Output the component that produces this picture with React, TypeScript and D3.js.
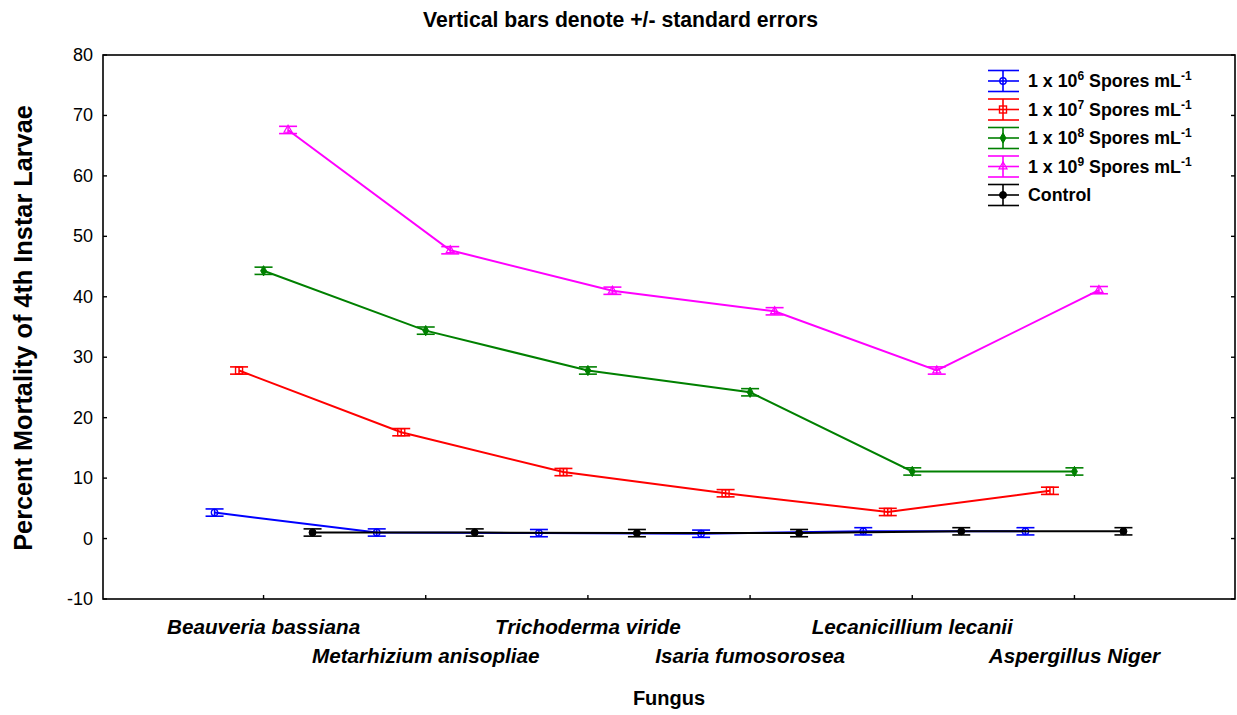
import React, { useEffect, useRef } from 'react';
import * as d3 from 'd3';

// fungus categories, in x order
const fungi = [
  'Beauveria bassiana',
  'Metarhizium anisopliae',
  'Trichoderma viride',
  'Isaria fumosorosea',
  'Lecanicillium lecanii',
  'Aspergillus Niger',
];

const seriesKeys = ['1e6', '1e7', '1e8', '1e9', 'control'];
const seriesExp = ['6', '7', '8', '9', ''];
const seriesColors = ['#0000ff', '#ff0000', '#008000', '#ff00ff', '#000000'];

// percent mortality (means) per series
const spores1e6 = [4.3, 1.0, 0.9, 0.8, 1.2, 1.2];
const spores1e7 = [27.8, 17.6, 11.0, 7.5, 4.4, 7.9];
const spores1e8 = [44.3, 34.4, 27.8, 24.2, 11.1, 11.1];
const spores1e9 = [67.6, 47.7, 41.0, 37.6, 27.8, 41.1];
const control = [1.0, 1.0, 0.9, 0.9, 1.2, 1.2];

// standard errors
const se1e6 = [0.6, 0.6, 0.6, 0.6, 0.6, 0.6];
const se1e7 = [0.6, 0.6, 0.6, 0.6, 0.6, 0.6];
const se1e8 = [0.6, 0.6, 0.6, 0.6, 0.6, 0.6];
const se1e9 = [0.6, 0.6, 0.6, 0.6, 0.6, 0.6];
const seControl = [0.6, 0.6, 0.6, 0.6, 0.6, 0.6];

const yTicks = [-10, 0, 10, 20, 30, 40, 50, 60, 70, 80];

const allMeans = [spores1e6, spores1e7, spores1e8, spores1e9, control];
const allSE = [se1e6, se1e7, se1e8, se1e9, seControl];

const W = 1237;
const H = 715;

const App = () => {
  const ref = useRef<SVGSVGElement>(null);

  useEffect(() => {
    const svg = d3.select(ref.current);
    svg.selectAll('*').remove();

    const margin = { top: 55, right: 2, bottom: 116, left: 103 };
    const x0 = margin.left;
    const x1 = W - margin.right;
    const y0 = margin.top;
    const y1 = H - margin.bottom;

    const xScale = d3.scalePoint<string>().domain(fungi).range([x0, x1]).padding(0.99);
    const offset = d3.scalePoint<string>().domain(seriesKeys).range([-49, 49]);
    const yScale = d3.scaleLinear().domain([-10, 80]).range([y1, y0]);

    const font = 'Liberation Sans, Arial, sans-serif';

    // Title
    svg.append('text')
      .attr('x', W / 2 + 2)
      .attr('y', 27)
      .attr('text-anchor', 'middle')
      .style('font-family', font)
      .style('font-weight', 'bold')
      .style('font-size', '21.2px')
      .text('Vertical bars denote +/- standard errors');

    // Frame
    svg.append('rect')
      .attr('x', x0)
      .attr('y', y0)
      .attr('width', x1 - x0)
      .attr('height', y1 - y0)
      .attr('fill', 'none')
      .attr('stroke', '#000')
      .attr('stroke-width', 1.6);

    // Y ticks (inside, both sides)
    yTicks.forEach((t) => {
      const y = yScale(t);
      svg.append('line').attr('x1', x0).attr('x2', x0 + 4).attr('y1', y).attr('y2', y)
        .attr('stroke', '#000').attr('stroke-width', 1.4);
      svg.append('line').attr('x1', x1 - 4).attr('x2', x1).attr('y1', y).attr('y2', y)
        .attr('stroke', '#000').attr('stroke-width', 1.4);
      svg.append('text')
        .attr('x', x0 - 10)
        .attr('y', y + 6)
        .attr('text-anchor', 'end')
        .style('font-family', font)
        .style('font-size', '18px')
        .text(t);
    });

    // X ticks (inside)
    fungi.forEach((f, i) => {
      const x = xScale(f)!;
      svg.append('line').attr('x1', x).attr('x2', x).attr('y1', y1).attr('y2', y1 - 4)
        .attr('stroke', '#000').attr('stroke-width', 1.4);
      svg.append('text')
        .attr('x', x)
        .attr('y', i % 2 === 0 ? 634 : 663)
        .attr('text-anchor', 'middle')
        .style('font-family', font)
        .style('font-weight', 'bold')
        .style('font-style', 'italic')
        .style('font-size', '20.7px')
        .text(f);
    });

    // Axis labels
    svg.append('text')
      .attr('x', (x0 + x1) / 2)
      .attr('y', 705)
      .attr('text-anchor', 'middle')
      .style('font-family', font)
      .style('font-weight', 'bold')
      .style('font-size', '20px')
      .text('Fungus');

    svg.append('text')
      .attr('transform', 'rotate(-90)')
      .attr('x', -328)
      .attr('y', 32)
      .attr('text-anchor', 'middle')
      .style('font-family', font)
      .style('font-weight', 'bold')
      .style('font-size', '25.3px')
      .text('Percent Mortality of 4th Instar Larvae');

    const drawMarker = (g: any, k: number, x: number, y: number) => {
      const c = seriesColors[k];
      if (k === 0) {
        g.append('circle').attr('cx', x).attr('cy', y).attr('r', 3.2)
          .attr('fill', 'none').attr('stroke', c).attr('stroke-width', 1.4);
      } else if (k === 1) {
        g.append('rect').attr('x', x - 3.5).attr('y', y - 3.5).attr('width', 7).attr('height', 7)
          .attr('fill', 'none').attr('stroke', c).attr('stroke-width', 1.4);
      } else if (k === 2) {
        g.append('path').attr('d', d3.symbol(d3.symbolDiamond, 30)(null) as string)
          .attr('transform', `translate(${x},${y})`)
          .attr('fill', c).attr('stroke', c).attr('stroke-width', 1);
      } else if (k === 3) {
        g.append('path').attr('d', d3.symbol(d3.symbolTriangle, 28)(null) as string)
          .attr('transform', `translate(${x},${y})`)
          .attr('fill', 'none').attr('stroke', c).attr('stroke-width', 1.2);
      } else {
        g.append('circle').attr('cx', x).attr('cy', y).attr('r', 3.5)
          .attr('fill', c).attr('stroke', c);
      }
    };

    // Series: line, error bars, markers
    const plot = svg.append('g');
    seriesKeys.forEach((key, k) => {
      const means = allMeans[k];
      const ses = allSE[k];
      const pts = fungi.map((f, i) => ({
        x: xScale(f)! + offset(key)!,
        m: means[i],
        se: ses[i],
      }));
      const color = seriesColors[k];

      plot.append('path')
        .datum(pts)
        .attr('fill', 'none')
        .attr('stroke', color)
        .attr('stroke-width', 2)
        .attr('d', d3.line<any>().x((d) => d.x).y((d) => yScale(d.m)));

      pts.forEach((p) => {
        const yt = yScale(p.m + p.se);
        const yb = yScale(p.m - p.se);
        plot.append('line').attr('x1', p.x).attr('x2', p.x).attr('y1', yt).attr('y2', yb)
          .attr('stroke', color).attr('stroke-width', 1.5);
        [yt, yb].forEach((y) => {
          plot.append('line').attr('x1', p.x - 9).attr('x2', p.x + 9).attr('y1', y).attr('y2', y)
            .attr('stroke', color).attr('stroke-width', 1.6);
        });
        drawMarker(plot, k, p.x, yScale(p.m));
      });
    });

    // Legend
    const legend = svg.append('g').attr('transform', 'translate(1003, 81)');
    seriesKeys.forEach((key, k) => {
      const y = k * 28.5;
      const color = seriesColors[k];
      legend.append('line').attr('x1', -15).attr('x2', 16).attr('y1', y).attr('y2', y)
        .attr('stroke', color).attr('stroke-width', 1.6);
      legend.append('line').attr('x1', 0).attr('x2', 0).attr('y1', y - 10.5).attr('y2', y + 10.5)
        .attr('stroke', color).attr('stroke-width', 1.6);
      [y - 10.5, y + 10.5].forEach((yy) => {
        legend.append('line').attr('x1', -15).attr('x2', 16).attr('y1', yy).attr('y2', yy)
          .attr('stroke', color).attr('stroke-width', 1.6);
      });
      drawMarker(legend, k, 0, y);

      const txt = legend.append('text')
        .attr('x', 25)
        .attr('y', y + 6)
        .style('font-family', font)
        .style('font-weight', 'bold')
        .style('font-size', '17.8px');
      if (key === 'control') {
        txt.text('Control');
      } else {
        txt.append('tspan').text('1 x 10');
        txt.append('tspan').attr('dy', -7).style('font-size', '12px').text(seriesExp[k]);
        txt.append('tspan').attr('dy', 7).text(' Spores mL');
        txt.append('tspan').attr('dy', -7).style('font-size', '12px').text('-1');
      }
    });
  }, []);

  return (
    <svg
      ref={ref}
      width={W}
      height={H}
      style={{ position: 'absolute', left: 0, top: 0, background: '#fff' }}
    />
  );
};

export default App;
